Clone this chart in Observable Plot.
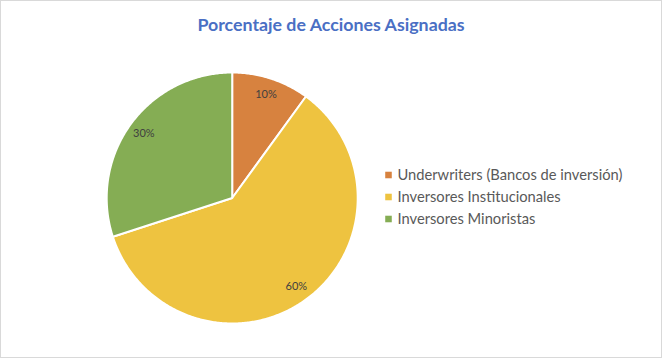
<!DOCTYPE html>
<html><head><meta charset="utf-8">
<script src="https://cdn.jsdelivr.net/npm/d3@7"></script>
<script src="https://cdn.jsdelivr.net/npm/@observablehq/plot@0.6"></script>
<style>
html,body{margin:0;padding:0;background:#fff;}
#chart{position:relative;box-sizing:border-box;width:662px;height:358px;border:1px solid #d9d9d9;background:#fff;overflow:hidden;}
#title{position:absolute;left:0;top:0;width:660px;height:39px;line-height:46px;text-align:center;font-family:Lato,"Open Sans",sans-serif;font-weight:bold;font-size:17.8px;color:#4A6FC4;}
#plot{position:absolute;left:0;top:39px;}
</style>
</head><body>
<div id="chart"><div id="title">Porcentaje de Acciones Asignadas</div><div id="plot"></div></div>
<script>
const categories = ["Underwriters (Bancos de inversión)", "Inversores Institucionales", "Inversores Minoristas"];
const values = [10, 60, 30];
const colors = ["#D7823F", "#EEC340", "#85AD54"];

// layout (pixels inside the SVG)
const W = 660, H = 317, cx = 230.7, cy = 157.5, R = 125.5;
const px2x = p => (p - cx) / R;
const px2y = p => (cy - p) / R;

const arcs = d3.pie().sort(null).value(d => d.v)(categories.map((c, i) => ({c, v: values[i]})));
const pts = [];
arcs.forEach(a => {
  const n = Math.max(2, Math.ceil((a.endAngle - a.startAngle) / 0.01));
  pts.push({name: a.data.c, x: 0, y: 0});
  for (let k = 0; k <= n; k++) {
    const t = a.startAngle + (a.endAngle - a.startAngle) * k / n;
    pts.push({name: a.data.c, x: Math.sin(t), y: Math.cos(t)});
  }
  pts.push({name: a.data.c, x: 0, y: 0});
});
const labels = arcs.map(a => {
  const m = (a.startAngle + a.endAngle) / 2;
  return {x: 0.87 * Math.sin(m), y: 0.87 * Math.cos(m), t: a.data.v + "%"};
});
const legend = categories.map((c, i) => ({c, x: px2x(387), tx: px2x(396), y: px2y(134.5 + i * 22)}));

const plot = Plot.plot({
  width: W, height: H,
  marginTop: 0, marginBottom: 0, marginLeft: 0, marginRight: 0,
  style: {fontFamily: "Lato, 'Open Sans', sans-serif", background: "transparent"},
  x: {domain: [-1, 1], range: [cx - R, cx + R], axis: null},
  y: {domain: [-1, 1], range: [cy + R, cy - R], axis: null},
  color: {domain: categories, range: colors},
  marks: [
    Plot.line(pts, {x: "x", y: "y", z: "name", fill: "name", stroke: "white", strokeWidth: 2, strokeLinejoin: "round", curve: "linear"}),
    Plot.text(labels, {x: "x", y: "y", text: "t", fill: "#404040", fontSize: 11}),
    Plot.dot(legend, {x: "x", y: "y", fill: "c", symbol: "square", r: 3.7, stroke: null}),
    Plot.text(legend, {x: "tx", y: "y", text: "c", textAnchor: "start", fill: "#595959", fontSize: 14.7})
  ]
});
document.getElementById("plot").appendChild(plot);
</script>
</body></html>
